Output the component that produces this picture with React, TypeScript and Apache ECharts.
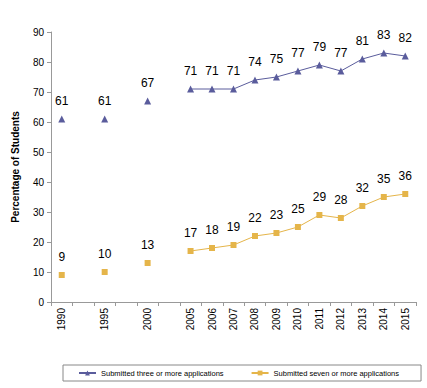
import React, { useEffect, useRef } from "react";
import * as echarts from "echarts";

const categories = ["1990", "", "1995", "", "2000", "", "2005", "2006", "2007", "2008", "2009", "2010", "2011", "2012", "2013", "2014", "2015"];
const threeOrMore = [61, null, 61, null, 67, null, 71, 71, 71, 74, 75, 77, 79, 77, 81, 83, 82];
const sevenOrMore = [9, null, 10, null, 13, null, 17, 18, 19, 22, 23, 25, 29, 28, 32, 35, 36];
const yTicks = { min: 0, max: 90, interval: 10 };

export default function App() {
  const ref = useRef<HTMLDivElement>(null);
  useEffect(() => {
    const chart = echarts.init(ref.current!, null, { renderer: "svg" });
    const font = "Liberation Sans, Arial, sans-serif";
    chart.setOption({
      animation: false,
      backgroundColor: "#fff",
      grid: { left: 51, right: 11, top: 32, bottom: 86, containLabel: false },
      xAxis: {
        type: "category",
        data: categories,
        boundaryGap: true,
        axisLine: { lineStyle: { color: "#999", width: 1 } },
        axisTick: { show: true, alignWithLabel: false, interval: 0, length: 4, lineStyle: { color: "#999" } },
        axisLabel: { rotate: 90, interval: 0, color: "#000", fontSize: 10, fontFamily: font, margin: 6 },
      },
      yAxis: {
        type: "value",
        min: yTicks.min,
        max: yTicks.max,
        interval: yTicks.interval,
        name: "Percentage of Students",
        nameLocation: "middle",
        nameGap: 31,
        nameTextStyle: { fontSize: 10, fontWeight: "bold", color: "#000", fontFamily: font },
        axisLine: { show: true, lineStyle: { color: "#999", width: 1 } },
        axisTick: { show: true, length: 4, lineStyle: { color: "#999" } },
        splitLine: { show: false },
        axisLabel: { color: "#000", fontSize: 10, fontFamily: font, margin: 7 },
      },
      legend: {
        orient: "horizontal",
        top: 365,
        left: 63,
        itemGap: 27,
        itemWidth: 17,
        itemHeight: 6,
        padding: [4, 22, 4, 15],
        borderColor: "#888",
        borderWidth: 1,
        textStyle: { fontSize: 7.5, color: "#000", fontFamily: font },
      },
      series: [
        {
          name: "Submitted three or more applications",
          type: "line",
          data: threeOrMore,
          connectNulls: false,
          symbol: "triangle",
          symbolSize: 7,
          itemStyle: { color: "#5a5c9c" },
          lineStyle: { color: "#5a5c9c", width: 1 },
          label: { show: true, position: "top", distance: 9, color: "#000", fontSize: 12, fontFamily: font },
        },
        {
          name: "Submitted seven or more applications",
          type: "line",
          data: sevenOrMore,
          connectNulls: false,
          symbol: "rect",
          symbolSize: 6,
          itemStyle: { color: "#e5b54a" },
          lineStyle: { color: "#e5b54a", width: 1 },
          label: { show: true, position: "top", distance: 9, color: "#000", fontSize: 12, fontFamily: font },
        },
      ],
    });
    return () => chart.dispose();
  }, []);
  return <div ref={ref} style={{ width: 427, height: 388, position: "absolute", left: 0, top: 0 }} />;
}
